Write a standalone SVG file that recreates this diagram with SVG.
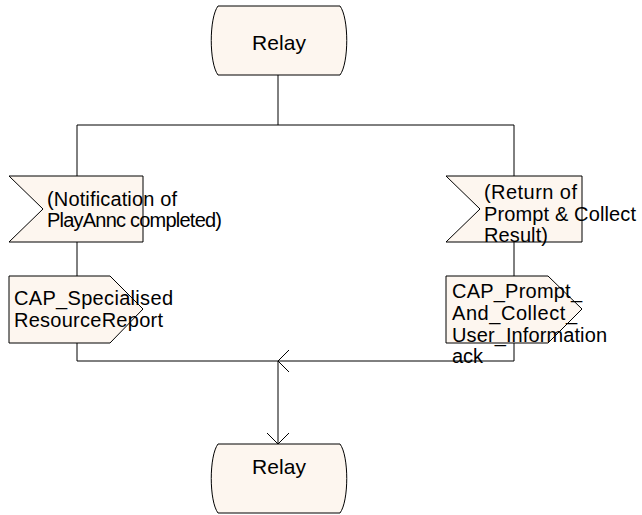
<svg xmlns="http://www.w3.org/2000/svg" width="642" height="515" viewBox="0 0 642 515">
<style>
.shape{fill:#fdf6ef;stroke:#000;stroke-width:1}
.ln{fill:none;stroke:#000;stroke-width:1}
text{font-family:"Liberation Sans",Arial,sans-serif;font-size:20px;fill:#000}
.r{font-size:21px}
</style>
<rect width="642" height="515" fill="#fff"/>
<g id="relay_top">
<path class="shape" d="M218,6 H340 C349,18 349,63 340,75 H218 C209,63 209,18 218,6 Z"/>
<text class="r" x="252" y="50" textLength="54" lengthAdjust="spacing">Relay</text>
</g>
<g id="input_notification">
<polygon class="shape" points="9,176 143,176 143,242 9,242 43,209"/>
<text x="47" y="206" textLength="130" lengthAdjust="spacing">(Notification of</text>
<text x="47" y="227" textLength="175" lengthAdjust="spacing">PlayAnnc completed)</text>
</g>
<g id="input_return">
<polygon class="shape" points="446,176 582,176 582,242 446,242 480,209"/>
<text x="484" y="199" textLength="93" lengthAdjust="spacing">(Return of</text>
<text x="484" y="221" textLength="152" lengthAdjust="spacing">Prompt &amp; Collect</text>
<text x="484" y="242" textLength="64" lengthAdjust="spacing">Result)</text>
</g>
<g id="output_specialised">
<polygon class="shape" points="9,276 110,276 143,309 110,343 9,343"/>
<text x="14" y="305" textLength="159" lengthAdjust="spacing">CAP_Specialised</text>
<text x="14" y="327" textLength="149" lengthAdjust="spacing">ResourceReport</text>
</g>
<g id="output_prompt">
<polygon class="shape" points="446,276 548,276 582,309 548,343 446,343"/>
<text x="452" y="298" textLength="130" lengthAdjust="spacing">CAP_Prompt_</text>
<text x="452" y="320" textLength="125" lengthAdjust="spacing">And_Collect_</text>
<text x="452" y="342" textLength="155" lengthAdjust="spacing">User_Information</text>
<text x="452" y="363">ack</text>
</g>
<g id="relay_bottom">
<path class="shape" d="M218,444 H340 C349,456 349,501 340,513 H218 C209,501 209,456 218,444 Z"/>
<text class="r" x="252" y="474" textLength="54" lengthAdjust="spacing">Relay</text>
</g>
<g id="connectors">
<path class="ln" d="M278,75 V125 M77,125 H514 M77,125 V176 M514,125 V176 M77,242 V276 M514,242 V276 M77,343 V361 H514 V343 M278,361 V444"/>
<path class="ln" d="M289,350 L278,361 L289,372"/>
<path class="ln" d="M267,433 L278,444 L289,433"/>
</g>
</svg>
